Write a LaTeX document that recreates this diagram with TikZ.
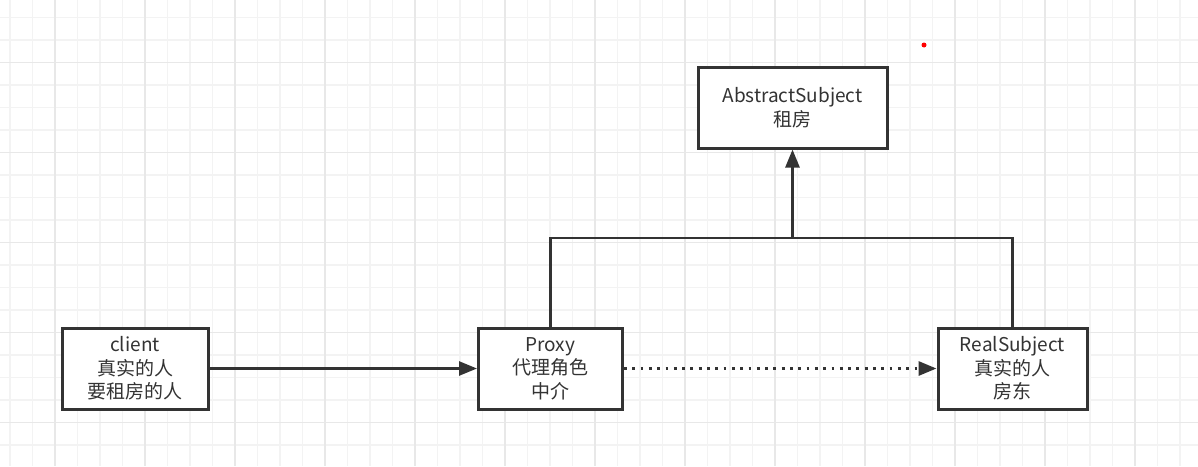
\documentclass[tikz,border=0pt]{standalone}
\usepackage{fontspec}
\setmainfont{Noto Sans CJK SC}
\usepackage{xcolor}
\usetikzlibrary{positioning,arrows.meta}
\definecolor{ink}{HTML}{333333}
\definecolor{gridminor}{HTML}{F3F3F3}
\definecolor{gridmajor}{HTML}{E8E8E8}
\tikzset{
role/.style={draw=ink, line width=3pt, fill=white, text=ink, align=center, inner sep=0pt,
  minimum height=81pt, font=\fontsize{19}{23.5}\selectfont},
link/.style={draw=ink, line width=2.6pt},
headed/.style={-{Triangle[length=18pt,width=14pt]}},
dots/.style={line width=3pt, dash pattern=on 2.8pt off 5.5pt}
}
\begin{document}
\begin{tikzpicture}[x=1pt, y=-1pt]
\useasboundingbox[fill=white] (0,0) rectangle (1198,466);
\foreach \gx in {10,32.5,...,1198} \draw[gridminor, line width=1.3pt] (\gx,0) -- (\gx,466);
\foreach \gy in {17.5,40,...,466} \draw[gridminor, line width=1.3pt] (0,\gy) -- (1198,\gy);
\foreach \gx in {55,145,...,1198} \draw[gridmajor, line width=1.3pt] (\gx,0) -- (\gx,466);
\foreach \gy in {62.5,152.5,...,466} \draw[gridmajor, line width=1.3pt] (0,\gy) -- (1198,\gy);

\node[role, minimum width=189pt] (abstract) at (792.5,107.5) {AbstractSubject\\租房};
\node[role, minimum width=146pt] (client) at (135,368.5) {client\\真实的人\\要租房的人};
\node[role, minimum width=144pt] (proxy) at (550.5,368.5) {Proxy\\代理角色\\中介};
\node[role, minimum width=149pt] (real) at (1012.5,368.5) {RealSubject\\真实的人\\房东};
\coordinate (join) at (792.5,238);

\draw[link, headed] (client) -- (proxy);
\draw[link, dots, headed] (proxy) -- (real);
\draw[link] (proxy.north) |- (join) -| (real.north);
\draw[link, headed] (join) -- (abstract.south);

\fill[red] (924,45) circle (2.5pt);
\end{tikzpicture}
\end{document}
